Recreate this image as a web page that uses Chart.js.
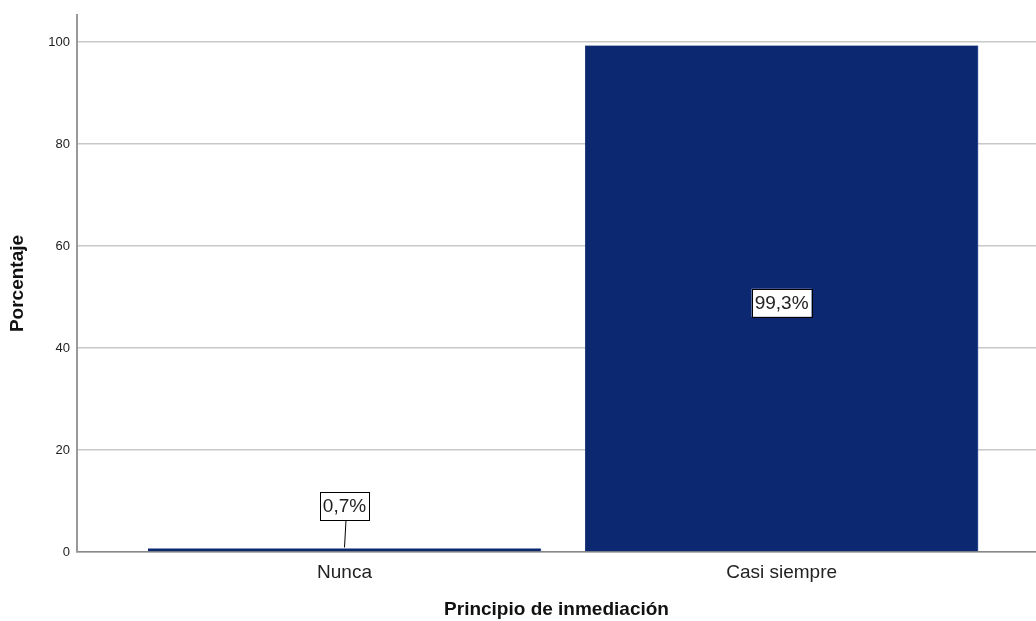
<!DOCTYPE html>
<html>
<head>
<meta charset="utf-8">
<script src="https://cdn.jsdelivr.net/npm/chart.js@4"></script>
<style>
  html, body { margin: 0; padding: 0; background: #fff; }
  #wrap { width: 1036px; height: 621px; }
</style>
</head>
<body>
<div id="wrap"><canvas id="chart"></canvas></div>
<script>
// Data
const categories = ['Nunca', 'Casi siempre'];
const percentages = [0.7, 99.3];
const yTicks = [0, 20, 40, 60, 80, 100];

const barColor = '#0b2870';
const font = "'Liberation Sans', Arial, sans-serif";

// Labels in boxes, like SPSS does it
const boxLabels = {
  id: 'boxLabels',
  afterDatasetsDraw(chart) {
    const ctx = chart.ctx;
    const meta = chart.getDatasetMeta(0);
    const y = chart.scales.y;
    ctx.save();
    ctx.font = '19px ' + font;
    ctx.textAlign = 'center';
    ctx.textBaseline = 'middle';
    meta.data.forEach((bar, i) => {
      const v = percentages[i];
      const text = v.toFixed(1).replace('.', ',') + '%';
      const w = ctx.measureText(text).width + 6;
      const h = 28;
      let cy;
      if (v < 10) {
        cy = y.getPixelForValue(v + 8.3);
        // leader line from bar top up to box
        ctx.strokeStyle = '#000';
        ctx.lineWidth = 1;
        ctx.beginPath();
        ctx.moveTo(bar.x, y.getPixelForValue(v) - 1);
        ctx.lineTo(bar.x + 1.5, cy + h / 2);
        ctx.stroke();
      } else {
        cy = y.getPixelForValue(v / 2) + 4;
      }
      ctx.fillStyle = '#fff';
      ctx.fillRect(bar.x - w / 2, cy - h / 2, w, h);
      ctx.strokeStyle = '#000';
      ctx.lineWidth = 1;
      ctx.strokeRect(Math.round(bar.x - w / 2) + 0.5, Math.round(cy - h / 2) + 0.5, Math.round(w), h);
      ctx.fillStyle = '#222';
      ctx.fillText(text, bar.x, cy + 1);
    });
    ctx.restore();
  }
};

new Chart(document.getElementById('chart'), {
  type: 'bar',
  data: {
    datasets: [{
      data: percentages.map((v, i) => ({ x: i, y: v })),
      backgroundColor: barColor,
      borderColor: '#3b5a9e',
      borderWidth: { left: 0, right: 1, top: 0, bottom: 0 },
      barThickness: 393
    }]
  },
  options: {
    responsive: true,
    maintainAspectRatio: false,
    animation: false,
    events: [],
    layout: { padding: { top: 15, right: 0, left: 0, bottom: 0 } },
    plugins: { legend: { display: false }, tooltip: { enabled: false } },
    scales: {
      x: {
        type: 'linear',
        min: -0.612,
        max: 1.582,
        offset: false,
        afterBuildTicks: (s) => { s.ticks = categories.map((c, i) => ({ value: i })); },
        afterFit: (s) => { s.height = 69; },
        ticks: {
          callback: (v) => categories[v],
          font: { family: font, size: 19 },
          color: '#222',
          padding: 9
        },
        grid: { display: false, drawTicks: false },
        border: { color: '#888', width: 1.5 },
        title: {
          display: true,
          text: 'Principio de inmediación',
          font: { family: font, size: 19, weight: 'bold' },
          color: '#111',
          padding: { top: 10, bottom: 0 }
        }
      },
      y: {
        min: 0,
        max: 105.3,
        afterBuildTicks: (s) => { s.ticks = yTicks.map(v => ({ value: v })); },
        afterFit: (s) => { s.width = 77; },
        ticks: {
          font: { family: font, size: 13 },
          color: '#222',
          padding: 7
        },
        grid: { color: '#c8c8c8', lineWidth: 1.5, drawTicks: false },
        border: { color: '#999', width: 2 },
        title: {
          display: true,
          text: 'Porcentaje',
          font: { family: font, size: 19, weight: 'bold' },
          color: '#111',
          padding: { top: 6, bottom: 0 }
        }
      }
    }
  },
  plugins: [boxLabels]
});
</script>
</body>
</html>
